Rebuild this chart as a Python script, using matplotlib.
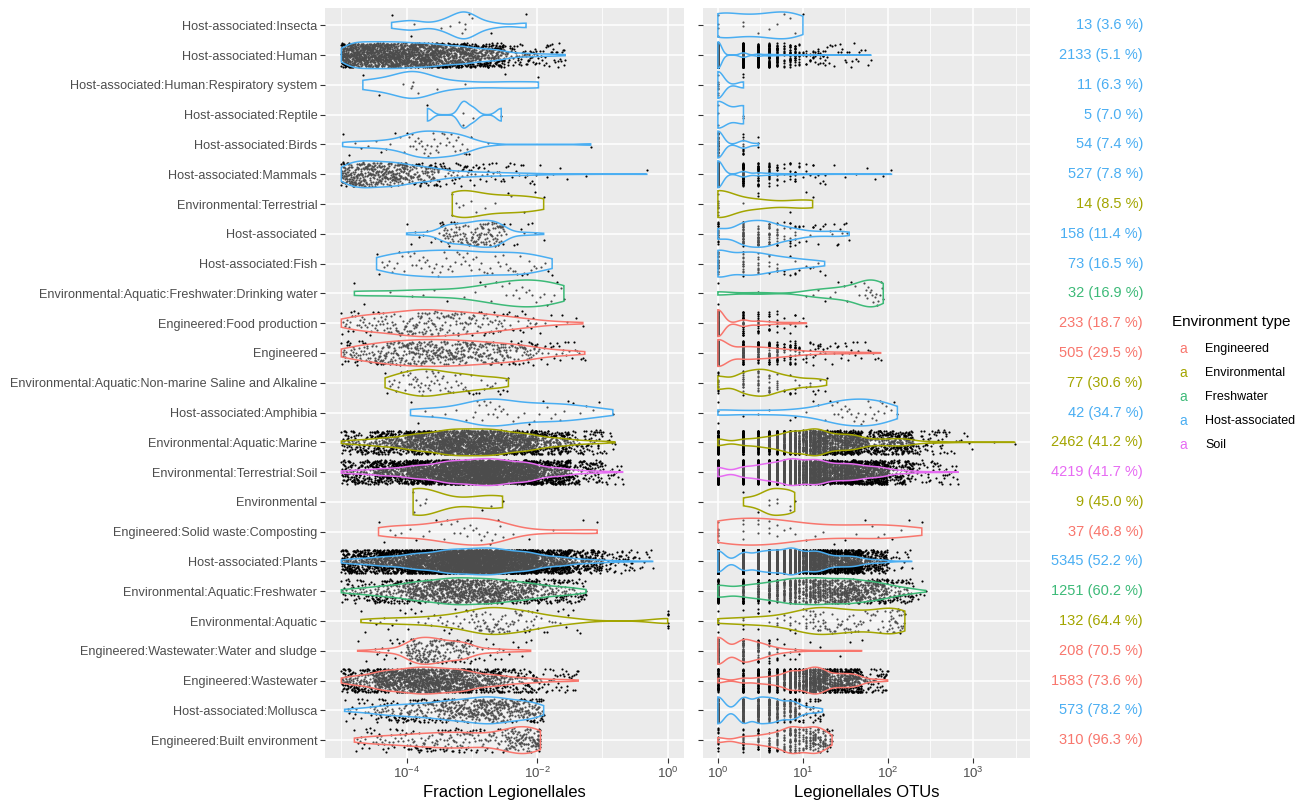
import numpy as np
import matplotlib
matplotlib.use("Agg")
import matplotlib.pyplot as plt
from matplotlib import transforms
from matplotlib.ticker import FixedLocator, NullFormatter

plt.rcParams['font.family'] = ['Liberation Sans', 'DejaVu Sans']
plt.rcParams['mathtext.default'] = 'regular'

# categories, top to bottom (sorted by % of samples with Legionellales)
categories = [
    "Host-associated:Insecta",
    "Host-associated:Human",
    "Host-associated:Human:Respiratory system",
    "Host-associated:Reptile",
    "Host-associated:Birds",
    "Host-associated:Mammals",
    "Environmental:Terrestrial",
    "Host-associated",
    "Host-associated:Fish",
    "Environmental:Aquatic:Freshwater:Drinking water",
    "Engineered:Food production",
    "Engineered",
    "Environmental:Aquatic:Non-marine Saline and Alkaline",
    "Host-associated:Amphibia",
    "Environmental:Aquatic:Marine",
    "Environmental:Terrestrial:Soil",
    "Environmental",
    "Engineered:Solid waste:Composting",
    "Host-associated:Plants",
    "Environmental:Aquatic:Freshwater",
    "Environmental:Aquatic",
    "Engineered:Wastewater:Water and sludge",
    "Engineered:Wastewater",
    "Host-associated:Mollusca",
    "Engineered:Built environment",
]
env_type = [
    "Host-associated", "Host-associated", "Host-associated", "Host-associated",
    "Host-associated", "Host-associated", "Environmental", "Host-associated",
    "Host-associated", "Freshwater", "Engineered", "Engineered", "Environmental",
    "Host-associated", "Environmental", "Soil", "Environmental", "Engineered",
    "Host-associated", "Freshwater", "Environmental", "Engineered", "Engineered",
    "Host-associated", "Engineered",
]
n_samples = [13, 2133, 11, 5, 54, 527, 14, 158, 73, 32, 233, 505, 77, 42,
             2462, 4219, 9, 37, 5345, 1251, 132, 208, 1583, 573, 310]
percent = [3.6, 5.1, 6.3, 7.0, 7.4, 7.8, 8.5, 11.4, 16.5, 16.9, 18.7, 29.5,
           30.6, 34.7, 41.2, 41.7, 45.0, 46.8, 52.2, 60.2, 64.4, 70.5, 73.6,
           78.2, 96.3]

env_types = ["Engineered", "Environmental", "Freshwater", "Host-associated", "Soil"]
env_colors = ["#F8766D", "#A3A500", "#3DBA78", "#4AAEF2", "#E76BF3"]

# Fraction Legionellales: sample counts per half-decade bin (log10 edges -5 .. 0)
frac_edges = [-5.0, -4.5, -4.0, -3.5, -3.0, -2.5, -2.0, -1.5, -1.0, -0.5, 0.0]
frac_counts = [
    [0, 1, 2, 7, 2, 1, 0, 0, 0, 0],
    [500, 500, 450, 350, 230, 70, 33, 0, 0, 0],
    [1, 2, 5, 1, 0, 1, 1, 0, 0, 0],
    [0, 0, 1, 2, 2, 0, 0, 0, 0, 0],
    [5, 7, 22, 18, 1, 0, 0, 1, 0, 0],
    [180, 160, 100, 40, 25, 15, 5, 1, 0, 1],
    [0, 0, 0, 5, 4, 4, 1, 0, 0, 0],
    [0, 0, 8, 60, 80, 9, 1, 0, 0, 0],
    [0, 12, 15, 16, 12, 14, 4, 0, 0, 0],
    [2, 1, 3, 2, 6, 10, 8, 0, 0, 0],
    [30, 40, 55, 45, 35, 20, 6, 2, 0, 0],
    [55, 85, 100, 95, 80, 60, 22, 8, 0, 0],
    [0, 12, 30, 20, 12, 3, 0, 0, 0, 0],
    [0, 0, 4, 3, 15, 6, 8, 5, 1, 0],
    [100, 200, 380, 560, 560, 390, 190, 70, 12, 0],
    [150, 300, 550, 900, 1050, 800, 350, 100, 19, 0],
    [0, 0, 5, 1, 3, 0, 0, 0, 0, 0],
    [0, 5, 5, 10, 12, 2, 1, 2, 0, 0],
    [250, 450, 750, 1100, 1200, 900, 450, 180, 55, 10],
    [60, 120, 210, 280, 260, 190, 100, 31, 0, 0],
    [3, 8, 10, 18, 40, 30, 12, 3, 0, 0],
    [2, 15, 100, 70, 15, 6, 0, 0, 0, 0],
    [150, 330, 420, 360, 190, 90, 35, 8, 0, 0],
    [20, 60, 80, 120, 160, 113, 20, 0, 0, 0],
    [15, 30, 45, 55, 40, 100, 25, 0, 0, 0],
]
frac_min_log10 = [-4.23, -5.0, -4.67, -3.68, -4.98, -5.0, -3.3, -4.0, -4.46, -4.8,
                  -5.0, -5.0, -4.33, -3.94, -5.0, -5.0, -3.9, -4.43, -5.0, -5.0,
                  -4.7, -4.75, -5.0, -4.95, -4.8]
frac_max_log10 = [-2.17, -1.57, -1.98, -2.55, -1.18, -0.32, -1.9, -1.9, -1.77, -1.59,
                  -1.3, -1.27, -2.44, -0.84, -0.81, -0.69, -2.53, -1.08, -0.23, -1.25,
                  -1.34, -2.1, -1.37, -1.9, -1.95]
# samples where the fraction is exactly 1
frac_at_one = [0] * 20 + [8] + [0] * 4

# small groups: individual samples (log10 fraction) read one by one
frac_points = {
    0: [-4.23, -3.94, -3.88, -3.48, -3.33, -3.2, -3.15, -3.1, -3.1, -3.05, -3.0, -2.7, -2.17],
    2: [-4.67, -4.43, -4.05, -3.94, -3.92, -3.9, -3.82, -3.54, -3.1, -2.5, -1.98],
    3: [-3.68, -3.13, -3.13, -2.98, -2.55],
    6: [-3.3, -3.3, -3.25, -3.2, -3.13, -3.02, -2.93, -2.8, -2.64, -2.44, -2.4, -2.2, -2.03, -1.9],
    16: [-3.9, -3.88, -3.85, -3.79, -3.72, -3.7, -2.85, -2.7, -2.53],
}

# Legionellales OTUs: counts per bin (1, 2, 3, 4, 5, 6-9, 10-19, 20-49, ...)
otu_edges = [1, 2, 3, 4, 5, 6, 10, 20, 50, 100, 200, 500, 1000, 3500]
otu_counts = [
    [4, 2, 1, 1, 1, 3, 1, 0, 0, 0, 0, 0, 0],
    [1500, 250, 120, 80, 50, 70, 40, 20, 3, 0, 0, 0, 0],
    [9, 2, 0, 0, 0, 0, 0, 0, 0, 0, 0, 0, 0],
    [3, 2, 0, 0, 0, 0, 0, 0, 0, 0, 0, 0, 0],
    [40, 11, 3, 0, 0, 0, 0, 0, 0, 0, 0, 0, 0],
    [351, 70, 35, 20, 12, 20, 12, 3, 3, 1, 0, 0, 0],
    [8, 1, 2, 0, 0, 1, 2, 0, 0, 0, 0, 0, 0],
    [20, 35, 30, 20, 12, 20, 10, 11, 0, 0, 0, 0, 0],
    [25, 15, 10, 5, 4, 8, 6, 0, 0, 0, 0, 0, 0],
    [2, 0, 1, 0, 0, 0, 4, 8, 17, 0, 0, 0, 0],
    [150, 35, 20, 10, 6, 10, 2, 0, 0, 0, 0, 0, 0],
    [220, 80, 50, 35, 25, 45, 25, 18, 7, 0, 0, 0, 0],
    [12, 15, 15, 10, 6, 10, 9, 0, 0, 0, 0, 0, 0],
    [3, 1, 1, 1, 0, 2, 4, 15, 12, 3, 0, 0, 0],
    [120, 100, 100, 100, 100, 400, 650, 500, 150, 180, 50, 10, 2],
    [250, 250, 250, 230, 220, 750, 900, 800, 400, 120, 40, 9, 0],
    [0, 1, 1, 2, 2, 3, 0, 0, 0, 0, 0, 0, 0],
    [8, 4, 3, 3, 2, 3, 3, 3, 4, 3, 1, 0, 0],
    [700, 550, 450, 400, 350, 1000, 1000, 700, 180, 15, 0, 0, 0],
    [100, 70, 60, 55, 50, 170, 230, 280, 160, 70, 6, 0, 0],
    [5, 5, 4, 2, 3, 10, 30, 28, 15, 30, 0, 0, 0],
    [80, 60, 35, 12, 8, 8, 2, 3, 0, 0, 0, 0, 0],
    [60, 60, 60, 60, 60, 300, 550, 380, 53, 0, 0, 0, 0],
    [120, 110, 90, 70, 50, 100, 33, 0, 0, 0, 0, 0, 0],
    [15, 20, 20, 20, 20, 90, 115, 10, 0, 0, 0, 0, 0],
]
otu_max = [10, 63, 2, 2, 3, 110, 13, 35, 18, 88, 11, 82, 20, 129, 3100, 670, 8,
           250, 190, 277, 158, 49, 100, 17, 22]


def bin_positions(lo, hi, c, first, last):
    # place c samples inside one bin (log scale), ends pinned to the data range
    k = np.arange(c)
    if first and last:
        t = np.linspace(0, 1, c) if c > 1 else np.array([0.5])
    elif first:
        t = k / c
    elif last:
        t = (k + 1) / c
    else:
        t = (k + 0.5) / c
    return lo + t * (hi - lo)


def fraction_values(i):
    if i in frac_points:
        return np.array(frac_points[i])
    counts = frac_counts[i]
    nz = [b for b, c in enumerate(counts) if c > 0]
    out = []
    for b in nz:
        lo = max(frac_edges[b], frac_min_log10[i])
        hi = min(frac_edges[b + 1], frac_max_log10[i])
        out.append(bin_positions(lo, hi, counts[b], b == nz[0], b == nz[-1]))
    if frac_at_one[i]:
        out.append(np.zeros(frac_at_one[i]))
    return np.concatenate(out)


def otu_values(i):
    counts = otu_counts[i]
    nz = [b for b, c in enumerate(counts) if c > 0]
    out = []
    for b in nz:
        lo = np.log10(otu_edges[b])
        hi = np.log10(min(otu_edges[b + 1] - 1, otu_max[i]))
        pos = bin_positions(lo, hi, counts[b], False, b == nz[-1])
        out.append(np.log10(np.round(10 ** pos)))
    return np.concatenate(out)


def nrd0(x):
    hi = np.std(x, ddof=1)
    q75, q25 = np.percentile(x, [75, 25])
    lo = min(hi, (q75 - q25) / 1.34)
    if lo == 0:
        lo = hi
    return 0.9 * lo * len(x) ** -0.2


def draw_violin(ax, logvals, ypos, color):
    bw = nrd0(logvals)
    grid = np.linspace(logvals.min(), logvals.max(), 512)
    dens = np.exp(-0.5 * ((grid[:, None] - logvals[None, :]) / bw) ** 2).sum(axis=1)
    w = dens / dens.max() * 0.45
    xs = 10 ** np.concatenate([grid, grid[::-1]])
    ys = np.concatenate([ypos + w, (ypos - w)[::-1]])
    ax.fill(xs, ys, facecolor=(1, 1, 1, 0.3), edgecolor=color, lw=1.1, zorder=3)


def jitter(n):
    # vertical jitter only (like geom_jitter(width = 0)), deterministic hash
    k = np.arange(n) + 1
    u = (np.sin(k * 12.9898) * 43758.5453) % 1
    return (u - 0.5) * 0.8


fig = plt.figure(figsize=(13.09, 8), dpi=100)
ax1 = fig.add_axes([325 / 1309, 42 / 800, 359 / 1309, 750.5 / 800])
ax2 = fig.add_axes([703 / 1309, 42 / 800, 327 / 1309, 750.5 / 800])

n_cat = len(categories)
ypos = [n_cat - 1 - i for i in range(n_cat)]

for i in range(n_cat):
    color = env_colors[env_types.index(env_type[i])]
    fv = fraction_values(i)
    ax1.scatter(10 ** fv, ypos[i] + jitter(len(fv)), s=2.4, c="black",
                linewidths=0, zorder=2)
    draw_violin(ax1, fv, ypos[i], color)
    ov = otu_values(i)
    ax2.scatter(10 ** ov, ypos[i] + jitter(len(ov)), s=2.4, c="black",
                linewidths=0, zorder=2)
    draw_violin(ax2, ov, ypos[i], color)

for ax in (ax1, ax2):
    ax.set_facecolor("#EBEBEB")
    ax.set_xscale("log")
    for s in ax.spines.values():
        s.set_visible(False)
    ax.set_ylim(-0.6, n_cat - 0.4)
    ax.set_yticks(ypos)
    ax.set_axisbelow(True)
    ax.grid(which="major", color="white", lw=1.1)
    ax.grid(which="minor", axis="x", color="white", lw=0.55)
    ax.tick_params(which="major", length=3.5, width=0.8, color="#333333",
                   labelcolor="#4D4D4D", labelsize=9.5, pad=2)
    ax.tick_params(which="minor", length=0)
    ax.xaxis.set_minor_formatter(NullFormatter())

ax1.set_xlim(10 ** -5.25, 10 ** 0.25)
ax1.xaxis.set_major_locator(FixedLocator([1e-4, 1e-2, 1e0]))
ax1.xaxis.set_minor_locator(FixedLocator([1e-5, 1e-3, 1e-1]))
ax1.set_xticklabels(["$10^{-4}$", "$10^{-2}$", "$10^{0}$"])
ax1.set_yticklabels(categories, fontsize=9.1)
ax1.set_xlabel("Fraction Legionellales", fontsize=12, labelpad=3)

ax2.set_xlim(10 ** -0.175, 10 ** 3.67)
ax2.xaxis.set_major_locator(FixedLocator([1, 10, 100, 1000]))
ax2.xaxis.set_minor_locator(FixedLocator([10 ** 0.5, 10 ** 1.5, 10 ** 2.5, 10 ** 3.5]))
ax2.set_xticklabels(["$10^{0}$", "$10^{1}$", "$10^{2}$", "$10^{3}$"])
ax2.set_yticklabels([])
ax2.set_xlabel("Legionellales OTUs", fontsize=12, labelpad=3)

# counts and percentages on the right
trans = transforms.blended_transform_factory(fig.transFigure, ax2.transData)
for i in range(n_cat):
    color = env_colors[env_types.index(env_type[i])]
    ax2.text(1143 / 1309, ypos[i], "%d (%.1f %%)" % (n_samples[i], percent[i]),
             transform=trans, ha="right", va="center", color=color,
             fontsize=10.5, clip_on=False)

# legend
fig.text(1172 / 1309, 1 - 322 / 800, "Environment type", fontsize=11,
         ha="left", va="center")
for k, (name, color) in enumerate(zip(env_types, env_colors)):
    y = 1 - (349 + 24 * k) / 800
    fig.text(1183 / 1309, y, "a", color=color, fontsize=10, ha="center", va="center")
    fig.text(1205 / 1309, y, name, fontsize=9, ha="left", va="center")

fig.savefig("out.png", dpi=100)
